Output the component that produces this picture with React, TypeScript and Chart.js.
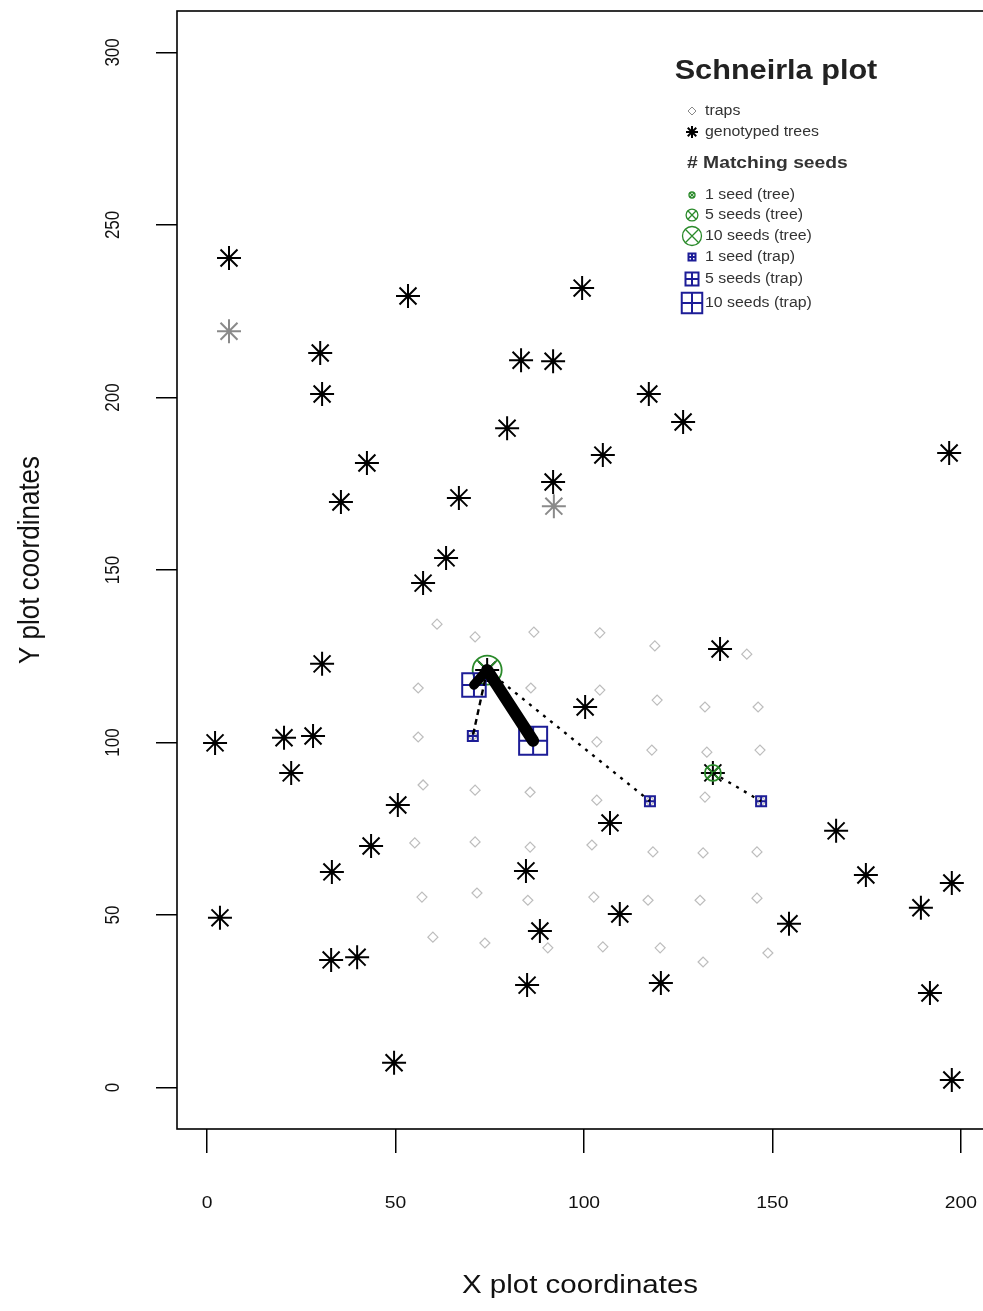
import React, { useEffect, useRef } from 'react';
import { Chart, registerables } from 'chart.js';
import { drawPoint } from 'chart.js/helpers';

Chart.register(...registerables);

// ---------------- data ----------------
const xTicks = [0, 50, 100, 150, 200];
const yTicks = [0, 50, 100, 150, 200, 250, 300];

// genotyped trees
const treeX = [5.8, 53.3, 99.5, 30.0, 30.5, 83.3, 91.8, 117.2, 126.3, 79.6, 42.4, 105.0, 196.9, 35.5, 66.8, 91.8, 63.4, 57.3, 30.5, 136.1, 2.1, 20.4, 28.1, 22.3, 100.3, 50.6, 106.9, 43.5, 33.1, 84.6, 166.9, 174.8, 197.6, 189.4, 3.4, 109.5, 88.3, 154.4, 32.9, 39.8, 84.9, 120.4, 191.8, 49.6, 197.6, 74.3, 134.2];
const treeY = [240.4, 229.4, 231.7, 212.9, 201.0, 210.8, 210.5, 201.0, 192.9, 191.1, 181.0, 183.3, 183.9, 169.7, 170.9, 175.5, 153.5, 146.2, 122.8, 127.1, 99.9, 101.4, 101.9, 91.2, 110.3, 81.9, 76.7, 70.0, 62.5, 62.8, 74.4, 61.6, 59.3, 52.1, 49.2, 50.3, 45.4, 47.5, 37.0, 37.8, 29.7, 30.3, 27.4, 7.2, 2.2, 121.0, 91.2];

// other (non-genotyped) trees, drawn grey
const otherTreeX = [5.8, 92.0];
const otherTreeY = [219.2, 168.5];

// seed traps
const trapX = [61.0, 71.1, 86.7, 104.2, 118.8, 143.2,
  56.0, 70.8, 85.9, 104.2, 119.4, 132.1, 146.2,
  56.0, 70.5, 86.5, 103.4, 118.0, 132.6, 146.7,
  57.3, 71.1, 85.7, 103.4, 117.5, 132.1, 147.0,
  55.1, 71.1, 85.7, 102.1, 118.3, 131.6, 145.9,
  57.0, 71.6, 85.1, 102.6, 117.0, 130.8, 145.9,
  59.9, 73.7, 90.4, 105.0, 120.2, 131.6, 148.8];
const trapY = [134.3, 130.6, 132.0, 131.8, 128.0, 125.6,
  115.8, 116.7, 115.8, 115.2, 112.3, 110.3, 110.3,
  101.6, 101.9, 100.5, 100.2, 97.8, 97.2, 97.8,
  87.7, 86.2, 85.6, 83.3, 83.0, 84.2, 83.0,
  70.9, 71.2, 69.7, 70.3, 68.3, 68.0, 68.3,
  55.2, 56.4, 54.3, 55.2, 54.3, 54.3, 54.9,
  43.6, 41.9, 40.5, 40.8, 40.5, 36.4, 39.0];

// mother trees with matching seeds
const seedTreeX = [74.3, 134.2];
const seedTreeY = [121.0, 91.2];
const seedTreeN = [17, 8];

// traps with matching seeds and the mother tree they match
const seedTrapX = [70.8, 86.5, 70.5, 117.5, 147.0];
const seedTrapY = [116.7, 100.5, 101.9, 83.0, 83.0];
const seedTrapN = [12, 15, 3, 3, 3];
const seedTrapMother = [0, 0, 0, 0, 1];
const linkType = ['solid', 'solid', 'dashed', 'dotted', 'dotted'];

const legendTitle = 'Schneirla plot';
const legendItems = ['traps', 'genotyped trees', '# Matching seeds', '1 seed (tree)', '5 seeds (tree)', '10 seeds (tree)', '1 seed (trap)', '5 seeds (trap)', '10 seeds (trap)'];
const legendSeeds = [1, 5, 10];
const xTitle = 'X plot coordinates';
const yTitle = 'Y plot coordinates';

// ---------------- styles ----------------
const GREEN = '#2a8a2a';
const BLUE = '#1d1d97';
const STRETCH = 1.135;
const FONT = '"Liberation Sans", Arial, sans-serif';

const treeRadius = (n: number) => 2.3 + 0.72 * n;
const trapSide = (n: number) => 5.5 + 1.5 * n;

function txt(ctx: CanvasRenderingContext2D, s: string, x: number, y: number, font: string, align: CanvasTextAlign, rotate = false, color = '#000') {
  ctx.save();
  ctx.translate(x, y);
  if (rotate) {
    ctx.rotate(-Math.PI / 2);
    ctx.scale(1, STRETCH);
  } else {
    ctx.scale(STRETCH, 1);
  }
  ctx.font = font;
  ctx.fillStyle = color;
  ctx.textAlign = align;
  ctx.textBaseline = 'middle';
  ctx.fillText(s, 0, 0);
  ctx.restore();
}

function sym(ctx: CanvasRenderingContext2D, style: any, r: number, x: number, y: number, color: string, lw: number) {
  ctx.save();
  ctx.strokeStyle = color;
  ctx.fillStyle = 'rgba(0,0,0,0)';
  ctx.lineWidth = lw;
  drawPoint(ctx, { pointStyle: style, radius: r, rotation: 0, borderWidth: lw } as any, x, y);
  ctx.restore();
}

const decorPlugin = {
  id: 'decor',
  afterDraw(chart: any) {
    const ctx: CanvasRenderingContext2D = chart.ctx;
    const { left, right, top, bottom } = chart.chartArea;
    const xs = chart.scales.x;
    const ys = chart.scales.y;
    // box
    ctx.save();
    ctx.strokeStyle = '#000';
    ctx.lineWidth = 1.6;
    ctx.strokeRect(left, top, right - left, bottom - top);
    ctx.restore();
    // tick labels
    xTicks.forEach((v) => txt(ctx, String(v), xs.getPixelForValue(v), 1203, `17px ${FONT}`, 'center', false, '#111'));
    yTicks.forEach((v) => txt(ctx, String(v), 114, ys.getPixelForValue(v), `17px ${FONT}`, 'center', true, '#111'));
    // axis titles
    txt(ctx, xTitle, (left + right) / 2 - 4, 1286, `26px ${FONT}`, 'center', false, '#111');
    txt(ctx, yTitle, 31, (top + bottom) / 2 - 10, `26px ${FONT}`, 'center', true, '#111');

    // legend
    txt(ctx, legendTitle, 776, 72, `bold 27px ${FONT}`, 'center', false, '#222');
    const sx = 692;
    const tx = 705;
    const rows = [111, 132, 163, 195, 215, 236, 257, 279, 303];
    sym(ctx, 'rectRot', 4, sx, rows[0], '#888', 1);
    txt(ctx, legendItems[0], tx, rows[0], `14px ${FONT}`, 'left', false, '#333');
    sym(ctx, 'star', 6, sx, rows[1], '#000', 2);
    txt(ctx, legendItems[1], tx, rows[1], `14px ${FONT}`, 'left', false, '#333');
    txt(ctx, legendItems[2], 687, rows[2], `bold 17px ${FONT}`, 'left', false, '#333');
    legendSeeds.forEach((n, i) => {
      const y = rows[3 + i];
      const r = treeRadius(n);
      sym(ctx, 'circle', r, sx, y, GREEN, 1.3);
      sym(ctx, 'crossRot', r, sx, y, GREEN, 1.3);
      txt(ctx, legendItems[3 + i], tx, y, `14px ${FONT}`, 'left', false, '#333');
    });
    legendSeeds.forEach((n, i) => {
      const y = rows[6 + i];
      const s = trapSide(n);
      sym(ctx, 'rect', s / Math.SQRT2, sx, y, BLUE, 2);
      sym(ctx, 'cross', s / 2, sx, y, BLUE, 2);
      txt(ctx, legendItems[6 + i], tx, y, `14px ${FONT}`, 'left', false, '#333');
    });
  },
};

export default function App() {
  const ref = useRef<HTMLCanvasElement>(null);
  useEffect(() => {
    if (!ref.current) return;
    const pts = (xs: number[], ys: number[]) => xs.map((x, i) => ({ x, y: ys[i] }));

    const links = seedTrapX.map((x, i) => {
      const m = seedTrapMother[i];
      const n = seedTrapN[i];
      const t = linkType[i];
      return {
        label: `link ${i + 1}`,
        data: [{ x: seedTreeX[m], y: seedTreeY[m] }, { x, y: seedTrapY[i] }],
        showLine: true,
        borderColor: '#000',
        borderWidth: Math.max(2.2, 0.8 * n),
        borderDash: t === 'dashed' ? [6, 4] : t === 'dotted' ? [3, 6] : [],
        borderCapStyle: t === 'solid' ? 'round' : 'butt',
        pointRadius: 0,
        order: 0,
      };
    });

    const datasets: any[] = [
      ...links,
      {
        label: 'matching seeds (trap)',
        data: pts(seedTrapX, seedTrapY),
        pointStyle: 'rect',
        pointRadius: seedTrapN.map((n) => trapSide(n) / Math.SQRT2),
        borderColor: BLUE,
        backgroundColor: 'rgba(0,0,0,0)',
        pointBorderWidth: 2,
        order: 1,
      },
      {
        label: 'matching seeds (trap) cross',
        data: pts(seedTrapX, seedTrapY),
        pointStyle: 'cross',
        pointRadius: seedTrapN.map((n) => trapSide(n) / 2),
        borderColor: BLUE,
        pointBorderWidth: 2,
        order: 1,
      },
      {
        label: 'matching seeds (tree)',
        data: pts(seedTreeX, seedTreeY),
        pointStyle: 'circle',
        pointRadius: seedTreeN.map(treeRadius),
        borderColor: GREEN,
        backgroundColor: 'rgba(0,0,0,0)',
        pointBorderWidth: 1.8,
        order: 2,
      },
      {
        label: 'matching seeds (tree) x',
        data: pts(seedTreeX, seedTreeY),
        pointStyle: 'crossRot',
        pointRadius: seedTreeN.map(treeRadius),
        borderColor: GREEN,
        pointBorderWidth: 1.8,
        order: 2,
      },
      {
        label: 'genotyped trees',
        data: pts(treeX, treeY),
        pointStyle: 'star',
        pointRadius: 12,
        borderColor: '#000',
        pointBorderWidth: 2,
        order: 3,
      },
      {
        label: 'other trees',
        data: pts(otherTreeX, otherTreeY),
        pointStyle: 'star',
        pointRadius: 12,
        borderColor: '#8a8a8a',
        pointBorderWidth: 2,
        order: 3,
      },
      {
        label: 'traps',
        data: pts(trapX, trapY),
        pointStyle: 'rectRot',
        pointRadius: 5,
        borderColor: '#bdbdbd',
        backgroundColor: 'rgba(0,0,0,0)',
        pointBorderWidth: 1.2,
        order: 4,
      },
    ];

    const chart = new Chart(ref.current, {
      type: 'scatter',
      data: { datasets },
      options: {
        animation: false,
        responsive: false,
        maintainAspectRatio: false,
        devicePixelRatio: 1,
        layout: { autoPadding: false, padding: { top: 11, right: 9, left: 0, bottom: 0 } },
        plugins: { legend: { display: false }, tooltip: { enabled: false } },
        scales: {
          x: {
            type: 'linear',
            min: -8,
            max: 208,
            afterBuildTicks: (s: any) => { s.ticks = xTicks.map((v) => ({ value: v })); },
            afterFit: (s: any) => { s.height = 182; },
            ticks: { display: false },
            grid: { drawOnChartArea: false, drawTicks: true, tickLength: 24, color: '#000', lineWidth: 1.5 },
            border: { display: false },
          },
          y: {
            type: 'linear',
            min: -12,
            max: 312,
            afterBuildTicks: (s: any) => { s.ticks = yTicks.map((v) => ({ value: v })); },
            afterFit: (s: any) => { s.width = 177; },
            ticks: { display: false },
            grid: { drawOnChartArea: false, drawTicks: true, tickLength: 21, color: '#000', lineWidth: 1.5 },
            border: { display: false },
          },
        },
      } as any,
      plugins: [decorPlugin],
    });
    return () => chart.destroy();
  }, []);

  return (
    <div style={{ position: 'fixed', left: 0, top: 0, width: 983, height: 1311, overflow: 'hidden', background: '#fff' }}>
      <canvas ref={ref} width={1000} height={1311} style={{ width: 1000, height: 1311, display: 'block' }} />
    </div>
  );
}
